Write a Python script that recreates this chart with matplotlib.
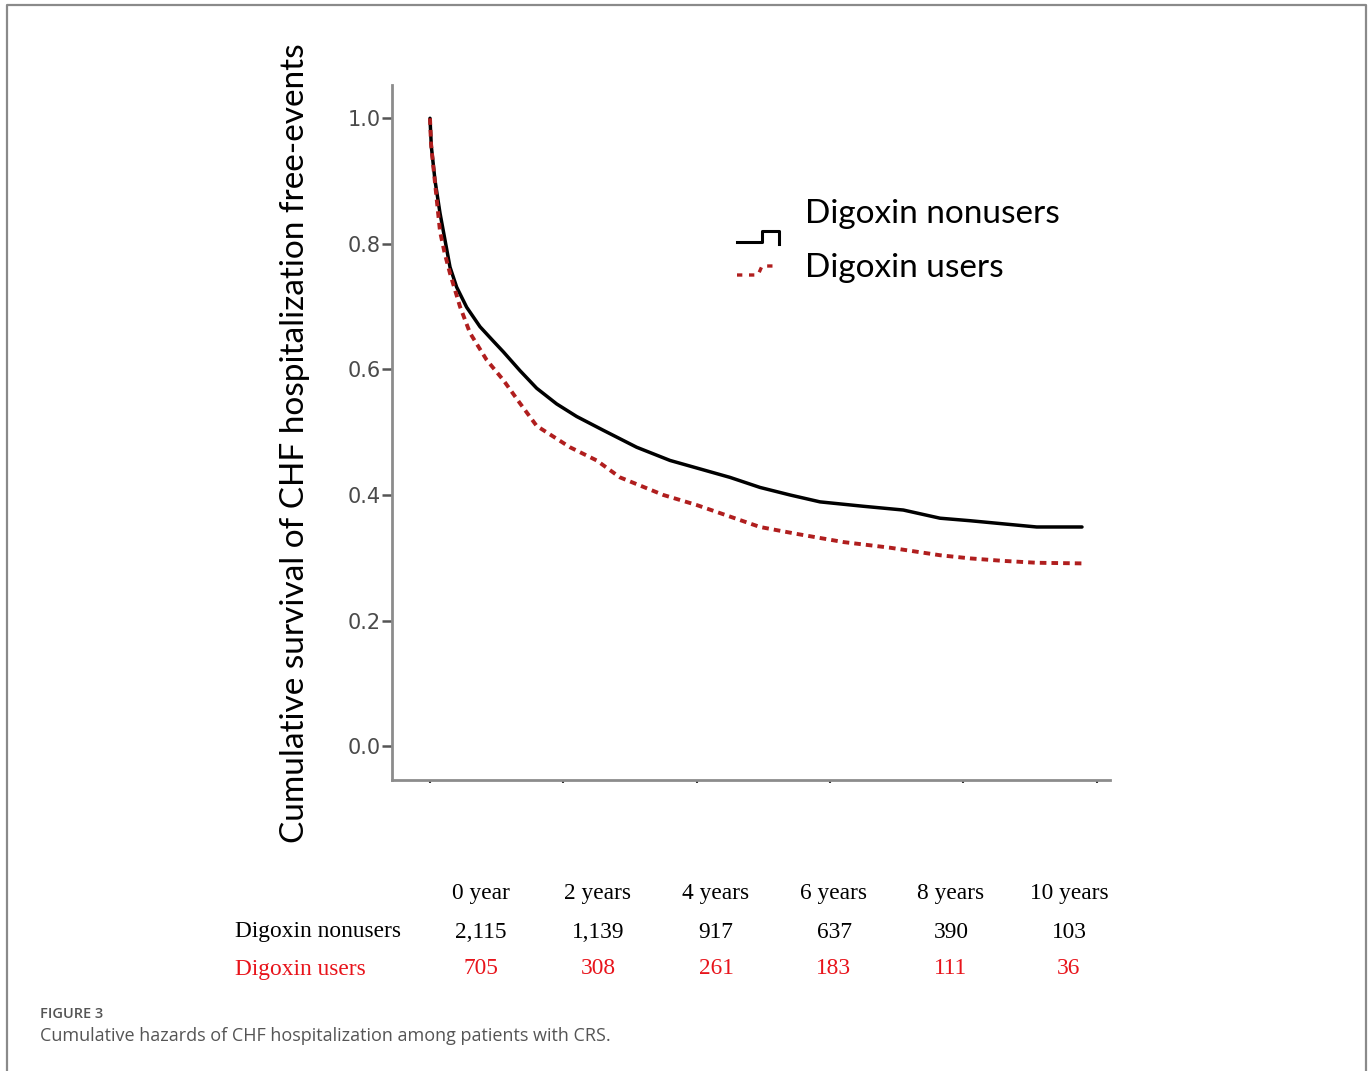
import matplotlib
matplotlib.use("Agg")
import matplotlib.pyplot as plt
from matplotlib.lines import Line2D

# Kaplan-Meier style survival estimates (years, survival fraction)
nonuser_years = [0, 0.02, 0.075, 0.15, 0.3, 0.4, 0.55, 0.75, 0.95, 1.1, 1.35,
                 1.6, 1.9, 2.2, 2.6, 3.1, 3.6, 4.1, 4.5, 4.95, 5.4, 5.85,
                 6.5, 7.1, 7.65, 8.1, 8.6, 9.1, 9.78]
nonuser_surv = [1.0, 0.955, 0.901, 0.849, 0.763, 0.731, 0.699, 0.668, 0.645,
                0.628, 0.598, 0.570, 0.545, 0.525, 0.503, 0.476, 0.455, 0.44,
                0.428, 0.412, 0.400, 0.389, 0.382, 0.376, 0.363, 0.359,
                0.354, 0.349, 0.349]

user_years = [0, 0.015, 0.045, 0.15, 0.22, 0.3, 0.45, 0.6, 0.85, 1.1, 1.35,
              1.6, 2.1, 2.5, 2.85, 3.5, 4.0, 4.95, 5.5, 6.2, 6.9, 7.65, 8.1,
              8.6, 9.1, 9.78]
user_surv = [1.0, 0.96, 0.928, 0.82, 0.785, 0.753, 0.70, 0.658, 0.615, 0.583,
             0.546, 0.510, 0.476, 0.455, 0.428, 0.40, 0.384, 0.349, 0.338,
             0.325, 0.316, 0.304, 0.299, 0.295, 0.292, 0.291]

# numbers at risk
risk_headers = ["0 year", "2 years", "4 years", "6 years", "8 years", "10 years"]
risk_nonusers = ["2,115", "1,139", "917", "637", "390", "103"]
risk_users = ["705", "308", "261", "183", "111", "36"]

y_ticks = [0.0, 0.2, 0.4, 0.6, 0.8, 1.0]
x_ticks = [0, 2, 4, 6, 8, 10]

W, H = 1371, 1071
fig = plt.figure(figsize=(W / 100, H / 100), dpi=100)


def fx(x):
    return x / W


def fy(y):
    return 1 - y / H


# outer frame of the figure panel
fig.add_artist(Line2D([fx(7), fx(7), fx(1366), fx(1366)],
                      [0, fy(5), fy(5), 0], color="#8a8a8a", lw=1.6,
                      transform=fig.transFigure))

ax = fig.add_axes([fx(392), fy(780), fx(1110) - fx(392), fy(85) - fy(780)])
ax.plot(nonuser_years, nonuser_surv, color="black", lw=2.5,
        solid_capstyle="round", solid_joinstyle="round")
ax.plot(user_years, user_surv, color="#b01e1e", lw=2.8,
        linestyle=(0, (1.7, 1.3)))

ax.set_xlim(-0.57, 10.2)
ax.set_ylim(-0.054, 1.053)
ax.set_xticks(x_ticks)
ax.set_xticklabels([])
ax.set_yticks(y_ticks)
ax.set_yticklabels([f"{v:.1f}" for v in y_ticks], fontsize=15,
                   color="#4a4a4a", family="DejaVu Sans")
ax.tick_params(axis="y", length=7, width=1.8, color="#555555", pad=1)
ax.tick_params(axis="x", length=2, width=1.5, color="#333333")
for side in ("top", "right"):
    ax.spines[side].set_visible(False)
for side in ("left", "bottom"):
    ax.spines[side].set_color("#8c8c8c")
    ax.spines[side].set_linewidth(2)

fig.text(fx(295), fy(443), "Cumulative survival of CHF hospitalization free-events",
         rotation=90, ha="center", va="center", fontsize=24, family="Lato",
         color="black")

# legend drawn by hand: step symbol for nonusers, dashed step for users
fig.add_artist(Line2D([fx(737), fx(762), fx(762), fx(779), fx(779)],
                      [fy(242), fy(242), fy(231), fy(231), fy(244)],
                      color="black", lw=2.2, transform=fig.transFigure))
fig.add_artist(Line2D([fx(737), fx(758), fx(762), fx(778)],
                      [fy(275), fy(275), fy(266), fy(266)],
                      color="#b01e1e", lw=2.4, linestyle=(0, (1.6, 2.0)),
                      transform=fig.transFigure))
fig.text(fx(805), fy(214), "Digoxin nonusers", fontsize=24, family="Lato",
         ha="left", va="center", color="black")
fig.text(fx(805), fy(268), "Digoxin users", fontsize=24, family="Lato",
         ha="left", va="center", color="black")

# numbers-at-risk table
col_x = [481, 598, 716, 834, 951, 1069]
for cx, head, n1, n2 in zip(col_x, risk_headers, risk_nonusers, risk_users):
    fig.text(fx(cx), fy(893), head, ha="center", va="center", fontsize=16.8,
             family="Liberation Serif", color="black")
    fig.text(fx(cx), fy(932), n1, ha="center", va="center", fontsize=16.8,
             family="Liberation Serif", color="black")
    fig.text(fx(cx), fy(969), n2, ha="center", va="center", fontsize=16.8,
             family="Liberation Serif", color="#e8141b")
fig.text(fx(235), fy(932), "Digoxin nonusers", ha="left", va="center",
         fontsize=16.8, family="Liberation Serif", color="black")
fig.text(fx(235), fy(969), "Digoxin users", ha="left", va="center",
         fontsize=16.8, family="Liberation Serif", color="#e8141b")

# caption
fig.text(fx(40), fy(1014), "FIGURE 3", ha="left", va="center", fontsize=10.5,
         family="Open Sans", fontweight="semibold", color="#555555")
fig.text(fx(40), fy(1036),
         "Cumulative hazards of CHF hospitalization among patients with CRS.",
         ha="left", va="center", fontsize=13, family="Open Sans",
         color="#555555")

fig.savefig("out.png", dpi=100)
